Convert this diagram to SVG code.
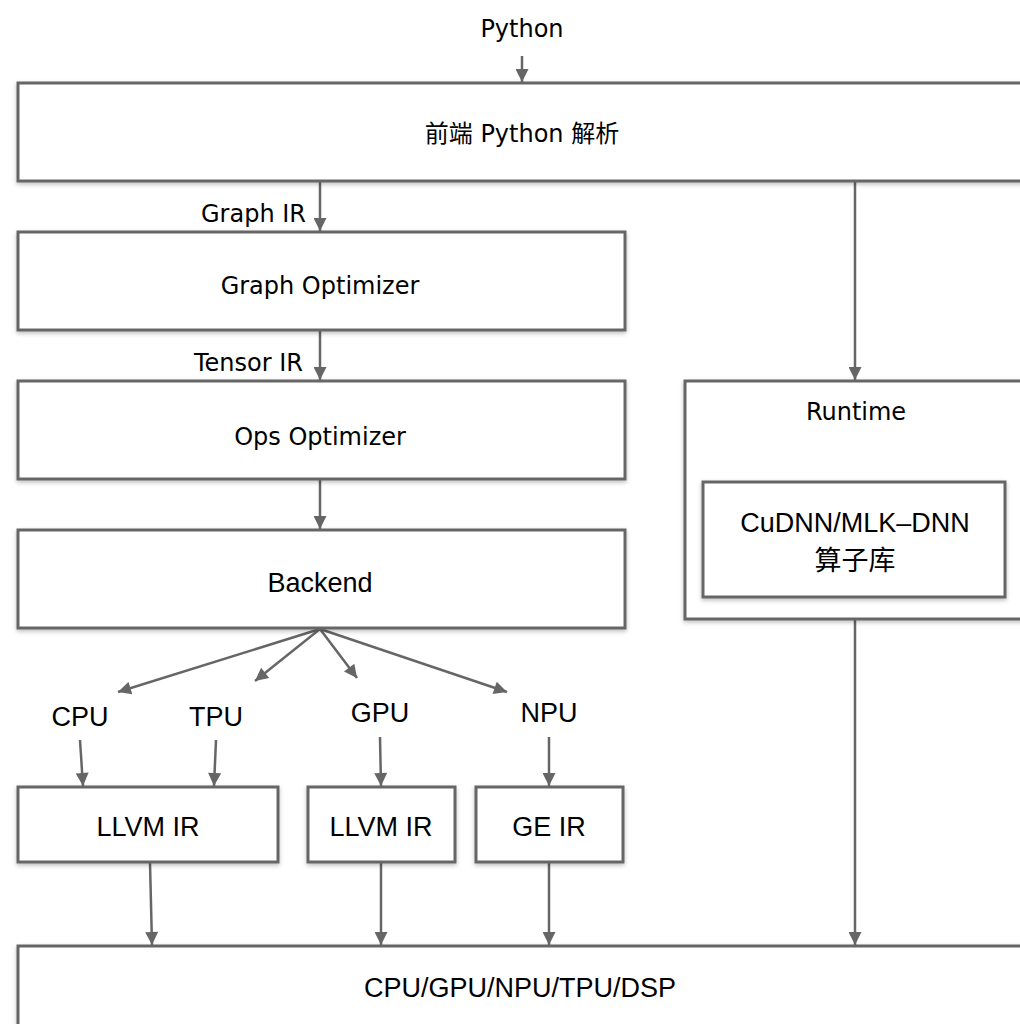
<svg xmlns="http://www.w3.org/2000/svg" width="1020" height="1024" viewBox="0 0 1020 1024">
<style>
.box{fill:#fff;stroke:#666;stroke-width:3;filter:url(#sh)}
.fu{font-family:"DejaVu Sans","Noto Sans CJK SC",sans-serif;font-size:24px;fill:#000}
.hv{font-family:"Liberation Sans","Noto Sans CJK SC",sans-serif;font-size:27px;fill:#000}
.c{text-anchor:middle}
.e{text-anchor:end}
.ln{stroke:#666;stroke-width:2.5;fill:none;marker-end:url(#ah)}
</style>
<defs>
<filter id="sh" x="-5%" y="-5%" width="110%" height="120%">
<feDropShadow dx="0" dy="2" stdDeviation="2" flood-color="#000" flood-opacity="0.25"/>
</filter>
<marker id="ah" viewBox="0 0 10 10" refX="10" refY="5" markerWidth="6.4" markerHeight="5.2" orient="auto" markerUnits="strokeWidth">
<path d="M0,0 L10,5 L0,10 z" fill="#666"/>
</marker>
</defs>
<rect width="1020" height="1024" fill="#fff"/>
<g id="connectors">
<line class="ln" x1="522" y1="56" x2="522" y2="82"/>
<line class="ln" x1="320" y1="182" x2="320" y2="231"/>
<line class="ln" x1="320" y1="331" x2="320" y2="380"/>
<line class="ln" x1="320" y1="480" x2="320" y2="529"/>
<line class="ln" x1="855" y1="182" x2="855" y2="380"/>
<line class="ln" x1="320" y1="629" x2="118" y2="692"/>
<line class="ln" x1="320" y1="629" x2="255" y2="681"/>
<line class="ln" x1="320" y1="629" x2="357" y2="678"/>
<line class="ln" x1="320" y1="629" x2="507" y2="692"/>
<line class="ln" x1="80" y1="740" x2="83" y2="786"/>
<line class="ln" x1="216" y1="740" x2="214" y2="786"/>
<line class="ln" x1="380" y1="737" x2="381" y2="786"/>
<line class="ln" x1="549" y1="737" x2="549" y2="786"/>
<line class="ln" x1="150" y1="863" x2="152" y2="945"/>
<line class="ln" x1="381" y1="863" x2="381" y2="945"/>
<line class="ln" x1="549" y1="863" x2="549" y2="945"/>
<line class="ln" x1="855" y1="620" x2="855" y2="945"/>
<text class="fu c" x="522" y="37">Python</text>
<text class="fu e" x="306" y="222">Graph IR</text>
<text class="fu e" x="303" y="371">Tensor IR</text>
<text class="hv c" x="80" y="726">CPU</text>
<text class="hv c" x="216" y="726">TPU</text>
<text class="hv c" x="380" y="722">GPU</text>
<text class="hv c" x="549" y="722">NPU</text>
</g>
<g id="frontend">
<rect class="box" x="18" y="83" width="1015" height="98"/>
<text class="fu c" x="522" y="142">前端 Python 解析</text>
</g>
<g id="graph-optimizer">
<rect class="box" x="18" y="232" width="607" height="98"/>
<text class="fu c" x="320" y="294">Graph Optimizer</text>
</g>
<g id="ops-optimizer">
<rect class="box" x="18" y="381" width="607" height="98"/>
<text class="fu c" x="320" y="445">Ops Optimizer</text>
</g>
<g id="backend">
<rect class="box" x="18" y="530" width="607" height="98"/>
<text class="hv c" x="320" y="592">Backend</text>
</g>
<g id="runtime">
<rect class="box" x="685" y="381" width="348" height="238"/>
<text class="fu c" x="856" y="420">Runtime</text>
</g>
<g id="cudnn">
<rect class="box" x="703" y="482" width="302" height="115"/>
<text class="hv c" x="855" y="532">CuDNN/MLK–DNN</text>
<text class="hv c" x="855" y="570">算子库</text>
</g>
<g id="llvm-ir-1">
<rect class="box" x="18" y="787" width="260" height="75"/>
<text class="hv c" x="148" y="836">LLVM IR</text>
</g>
<g id="llvm-ir-2">
<rect class="box" x="308" y="787" width="147" height="75"/>
<text class="hv c" x="381" y="836">LLVM IR</text>
</g>
<g id="ge-ir">
<rect class="box" x="476" y="787" width="147" height="75"/>
<text class="hv c" x="549" y="836">GE IR</text>
</g>
<g id="hardware">
<rect class="box" x="18" y="946" width="1015" height="90"/>
<text class="hv c" x="520" y="997">CPU/GPU/NPU/TPU/DSP</text>
</g>
</svg>
